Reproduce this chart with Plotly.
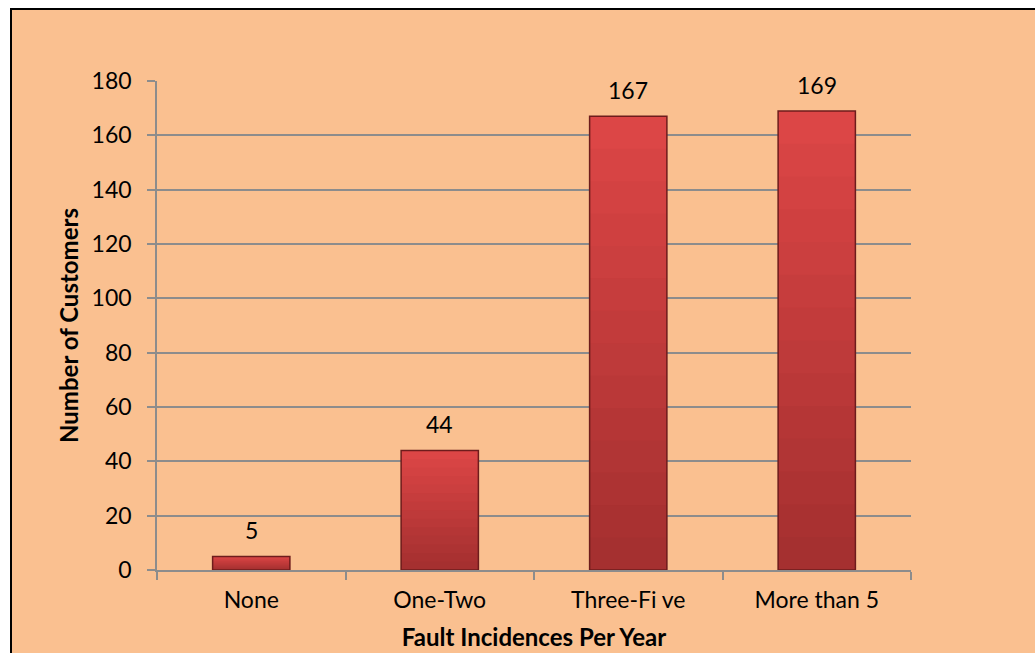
import plotly.graph_objects as go

# Survey results: number of customers by yearly fault incidences
categories = ["None", "One-Two", "Three-Fi ve", "More than 5"]
customers = [5, 44, 167, 169]
y_ticks = [0, 20, 40, 60, 80, 100, 120, 140, 160, 180]

W, H = 1035, 653
L, R, T, B = 157, 124, 81, 83
plot_w = W - L - R
plot_h = H - T - B

FONT = "Lato"
BG = "#FAC090"
GRID = "#8C8C8C"

fig = go.Figure()

# Vertical shading of the bars: stacked overlays, lighter at top, darker at bottom
top_rgb = (220, 70, 70)
bot_rgb = (165, 48, 48)
n_layers = 14
for i in range(n_layers):
    frac = 1 - i / n_layers
    t = i / (n_layers - 1)
    r = int(top_rgb[0] + (bot_rgb[0] - top_rgb[0]) * t)
    g = int(top_rgb[1] + (bot_rgb[1] - top_rgb[1]) * t)
    b = int(top_rgb[2] + (bot_rgb[2] - top_rgb[2]) * t)
    fig.add_trace(go.Bar(
        x=categories,
        y=[v * frac for v in customers],
        marker=dict(color=f"rgb({r},{g},{b})", line=dict(width=0)),
        hoverinfo="skip",
        showlegend=False,
    ))

# Outline of each bar
fig.add_trace(go.Bar(
    x=categories,
    y=customers,
    marker=dict(color="rgba(0,0,0,0)", line=dict(color="#6E1C1C", width=1.5)),
    showlegend=False,
))

# Value labels above the bars
for c, v in zip(categories, customers):
    fig.add_annotation(
        x=c, y=v, text=str(v), showarrow=False,
        yanchor="bottom", yshift=10,
        font=dict(family=FONT, size=23, color="#000000"),
    )

# Outer frame with the peach fill
fig.add_shape(
    type="rect", xref="paper", yref="paper", layer="below",
    x0=(11 - L) / plot_w, x1=(W + 10 - L) / plot_w,
    y0=-(B + 10) / plot_h, y1=(H - 11 - T) / plot_h,
    fillcolor=BG, line=dict(color="#000000", width=2),
)

fig.update_layout(
    width=W, height=H,
    margin=dict(l=L, r=R, t=T, b=B, pad=0),
    paper_bgcolor="#FFFFFF",
    plot_bgcolor="rgba(0,0,0,0)",
    barmode="overlay",
    bargap=0.59,
    showlegend=False,
    font=dict(family=FONT, size=23, color="#000000"),
)

fig.update_xaxes(
    type="category",
    range=[-0.5, 3.5],
    automargin=False,
    showline=True, linecolor=GRID, linewidth=1.5,
    ticks="outside", ticklen=8, tickcolor=GRID, tickwidth=1.5,
    tickson="boundaries",
    showgrid=False,
    ticklabelstandoff=9,
    tickfont=dict(family=FONT, size=23, color="#000000"),
    title=dict(text="<b>Fault Incidences Per Year</b>",
               font=dict(family=FONT, size=24, color="#000000"), standoff=17),
)

fig.update_yaxes(
    range=[0, 180],
    tickvals=y_ticks,
    automargin=False,
    showline=True, linecolor=GRID, linewidth=1.5,
    ticks="outside", ticklen=8, tickcolor=GRID, tickwidth=1.5,
    showgrid=True, gridcolor=GRID, gridwidth=1.5,
    zeroline=False,
    ticklabelstandoff=11,
    tickfont=dict(family=FONT, size=23, color="#000000"),
    title=dict(text="<b>Number of Customers</b>",
               font=dict(family=FONT, size=24, color="#000000"), standoff=6),
)

fig.write_html("out.html")
